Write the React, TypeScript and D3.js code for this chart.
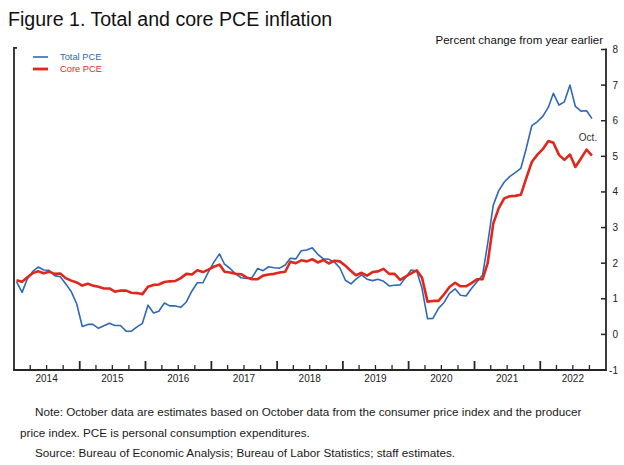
import React from 'react';
import * as d3 from 'd3';

// Monthly data, Jan 2014 .. Oct 2022 (percent change from year earlier)
const firstYear = 2014;
const totalPCE = [
  1.48, 1.18, 1.55, 1.77, 1.89, 1.81, 1.80, 1.65, 1.62, 1.42, 1.20, 0.86,
  0.22, 0.28, 0.28, 0.17, 0.24, 0.31, 0.25, 0.25, 0.09, 0.09, 0.21, 0.31,
  0.82, 0.60, 0.65, 0.88, 0.80, 0.80, 0.76, 0.91, 1.22, 1.45, 1.45, 1.75,
  2.03, 2.26, 1.97, 1.85, 1.70, 1.59, 1.57, 1.60, 1.85, 1.79, 1.90, 1.87,
  1.86, 1.95, 2.14, 2.12, 2.35, 2.37, 2.43, 2.25, 2.12, 2.11, 2.03, 1.87,
  1.52, 1.42, 1.55, 1.67, 1.55, 1.51, 1.55, 1.49, 1.36, 1.38, 1.39, 1.60,
  1.81, 1.78, 1.30, 0.44, 0.45, 0.73, 0.89, 1.15, 1.28, 1.10, 1.08, 1.29,
  1.48, 1.67, 2.55, 3.63, 4.03, 4.28, 4.43, 4.54, 4.66, 5.22, 5.86, 5.97,
  6.12, 6.38, 6.77, 6.44, 6.53, 7.00, 6.40, 6.27, 6.28, 6.06,
];
const corePCE = [
  1.52, 1.48, 1.60, 1.72, 1.77, 1.72, 1.76, 1.70, 1.71, 1.58, 1.51, 1.46,
  1.37, 1.42, 1.37, 1.34, 1.29, 1.29, 1.20, 1.23, 1.23, 1.17, 1.16, 1.13,
  1.34, 1.39, 1.40, 1.47, 1.49, 1.50, 1.58, 1.70, 1.68, 1.80, 1.75, 1.82,
  1.90, 1.96, 1.76, 1.74, 1.70, 1.69, 1.60, 1.55, 1.55, 1.65, 1.68, 1.70,
  1.74, 1.76, 2.04, 2.00, 2.08, 2.05, 2.11, 2.02, 2.09, 1.99, 2.07, 2.05,
  1.93, 1.78, 1.66, 1.73, 1.65, 1.75, 1.77, 1.84, 1.70, 1.70, 1.53, 1.62,
  1.71, 1.80, 1.60, 0.92, 0.94, 0.94, 1.12, 1.33, 1.45, 1.35, 1.35, 1.44,
  1.55, 1.55, 2.00, 3.11, 3.54, 3.82, 3.88, 3.89, 3.92, 4.38, 4.84, 5.04,
  5.20, 5.43, 5.38, 5.04, 4.90, 5.05, 4.70, 4.94, 5.19, 5.02,
];
const yTicks = [-1, 0, 1, 2, 3, 4, 5, 6, 7, 8];
const yearLabels = [2014, 2015, 2016, 2017, 2018, 2019, 2020, 2021, 2022];
const seriesNames = ['Total PCE', 'Core PCE'];
const noteLines = [
  'Note: October data are estimates based on October data from the consumer price index and the producer',
  'price index. PCE is personal consumption expenditures.',
  'Source: Bureau of Economic Analysis; Bureau of Labor Statistics; staff estimates.',
];

const FONT = '"Liberation Sans", Arial, sans-serif';
const BLUE = '#2f69b5';
const RED = '#e1271c';
const AXIS = '#262626';

export default function App() {
  const W = 624;
  const H = 465;
  const left = 14;
  const right = 606;
  const top = 49.5;
  const bottom = 370;

  const x = d3
    .scaleTime()
    .domain([new Date(firstYear, 0, 1), new Date(2023, 0, 1)])
    .range([left, right]);
  const y = d3.scaleLinear().domain([-1, 8]).range([bottom, top]);

  const dates = totalPCE.map((_, i) => new Date(firstYear, i, 15));
  const line = d3
    .line<number>()
    .x((_, i) => x(dates[i]))
    .y((v) => y(v));

  const quarterTicks = d3.timeMonth
    .every(3)!
    .range(new Date(firstYear, 3, 1), new Date(2023, 0, 1));

  return (
    <div style={{ position: 'absolute', left: 0, top: 0 }}>
      <svg width={W} height={H} style={{ display: 'block', background: '#fff' }} fontFamily={FONT}>
        <rect width={W} height={H} fill="#fff" />
        <text x={8} y={26} fontSize={19.6} fill="#111">
          Figure 1. Total and core PCE inflation
        </text>
        <text x={603} y={44} fontSize={11.5} textAnchor="end" fill="#111">
          Percent change from year earlier
        </text>

        {/* frame */}
        <line x1={left} x2={left} y1={47} y2={bottom} stroke={AXIS} strokeWidth={1.8} />
        <line x1={left} x2={left + 3} y1={47.9} y2={47.9} stroke={AXIS} strokeWidth={1.8} />
        <line x1={right} x2={right} y1={top - 0.9} y2={bottom} stroke={AXIS} strokeWidth={1.8} />
        <line x1={left - 0.9} x2={right + 0.9} y1={bottom} y2={bottom} stroke={AXIS} strokeWidth={1.8} />

        {/* right y ticks */}
        {yTicks.map((t) => (
          <g key={t}>
            <line x1={right - 5} x2={right} y1={y(t)} y2={y(t)} stroke={AXIS} strokeWidth={1.5} />
            <text x={618} y={y(t) + 3.5} fontSize={10} textAnchor="end" fill="#222">
              {t}
            </text>
          </g>
        ))}

        {/* x ticks */}
        {quarterTicks.map((d) => {
          const major = d.getMonth() === 0;
          return (
            <line
              key={+d}
              x1={x(d)}
              x2={x(d)}
              y1={bottom}
              y2={bottom - (major ? 9 : 5)}
              stroke={AXIS}
              strokeWidth={major ? 1.8 : 1.3}
            />
          );
        })}
        {yearLabels.map((yr) => (
          <text key={yr} x={x(new Date(yr, 6, 1))} y={382} fontSize={10} textAnchor="middle" fill="#222">
            {yr}
          </text>
        ))}

        {/* series */}
        <path d={line(totalPCE) || ''} fill="none" stroke={BLUE} strokeWidth={1.6} strokeLinejoin="round" />
        <path d={line(corePCE) || ''} fill="none" stroke={RED} strokeWidth={2.6} strokeLinejoin="round" />

        <text x={588} y={141} fontSize={10} textAnchor="middle" fill="#333">
          Oct.
        </text>

        {/* legend */}
        <line x1={33} x2={48} y1={57} y2={57} stroke={BLUE} strokeWidth={1.6} />
        <text x={60} y={60.3} fontSize={9.3} fill={BLUE}>
          {seriesNames[0]}
        </text>
        <line x1={33} x2={48} y1={69} y2={69} stroke={RED} strokeWidth={2.8} />
        <text x={60} y={72.3} fontSize={9.3} fill={RED}>
          {seriesNames[1]}
        </text>

        {/* notes */}
        <text x={35} y={416} fontSize={11.7} fill="#1a1a1a">
          {noteLines[0]}
        </text>
        <text x={20} y={437} fontSize={11.7} fill="#1a1a1a">
          {noteLines[1]}
        </text>
        <text x={35} y={457} fontSize={11.7} fill="#1a1a1a">
          {noteLines[2]}
        </text>
      </svg>
    </div>
  );
}
